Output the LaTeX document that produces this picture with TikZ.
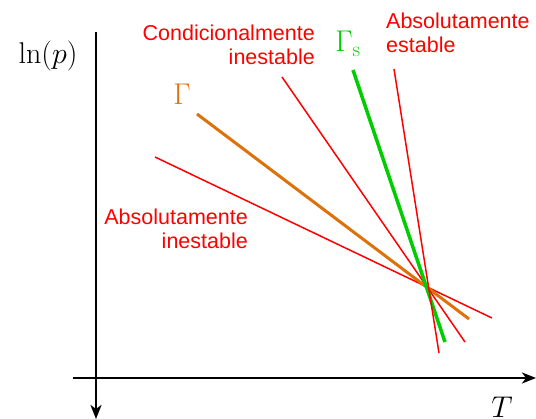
\RequirePackage{fix-cm}
\documentclass[tikz,border=0pt]{standalone}
\usepackage{fontspec}
\setsansfont{Liberation Sans}
\usetikzlibrary{arrows.meta}
\definecolor{redl}{RGB}{255,0,0}
\definecolor{greenl}{RGB}{0,204,0}
\definecolor{orangel}{RGB}{222,113,10}
\tikzset{
  axis/.style={line width=2.6pt, -{Stealth[length=14pt,width=11pt,inset=4pt]}},
  redline/.style={draw=redl, line width=1.5pt},
  greenline/.style={draw=greenl, line width=3.5pt},
  orangeline/.style={draw=orangel, line width=3pt},
  lbl/.style={text=redl, font=\sffamily\fontsize{21.5}{24.5}\selectfont, inner sep=0pt},
  mlbl/.style={font=\fontsize{30}{34}\selectfont, inner sep=0pt}
}
\begin{document}
\begin{tikzpicture}[x=1pt,y=-1pt]
\useasboundingbox (0,0) rectangle (536,419);
% axes
\coordinate (vtop) at (96,32);
\coordinate (vbot) at (96,419);
\coordinate (hleft) at (73,378);
\coordinate (hright) at (536,378);
\draw[axis] (vtop) -- (vbot);
\draw[axis] (hleft) -- (hright);
% lines
\coordinate (au1) at (155,157); \coordinate (au2) at (492,318);
\coordinate (g1) at (197,114);  \coordinate (g2) at (469,319);
\coordinate (ci1) at (282,77);  \coordinate (ci2) at (465,342);
\coordinate (gs1) at (353,70);  \coordinate (gs2) at (445,342);
\coordinate (as1) at (394,69);  \coordinate (as2) at (439,353);
\draw[redline] (au1) -- (au2);
\draw[orangeline] (g1) -- (g2);
\draw[redline] (ci1) -- (ci2);
\draw[greenline] (gs1) -- (gs2);
\draw[redline] (as1) -- (as2);
% labels
\node[lbl, align=right, anchor=east] (lci) at (315,45) {Condicionalmente\\inestable};
\node[lbl, align=left, anchor=west] (las) at (386,33) {Absolutamente\\estable};
\node[lbl, align=right, anchor=east] (lau) at (248,229) {Absolutamente\\inestable};
\node[mlbl, text=greenl] (lgs) at (348,44) {$\Gamma_{\mathrm{s}}$};
\node[mlbl, text=orangel] (lg) at (182,94) {$\Gamma$};
\node[mlbl] (lp) at (48,56) {$\ln(p)$};
\node[mlbl, anchor=south] (lT) at (502,418) {$T$};
\end{tikzpicture}
\end{document}
